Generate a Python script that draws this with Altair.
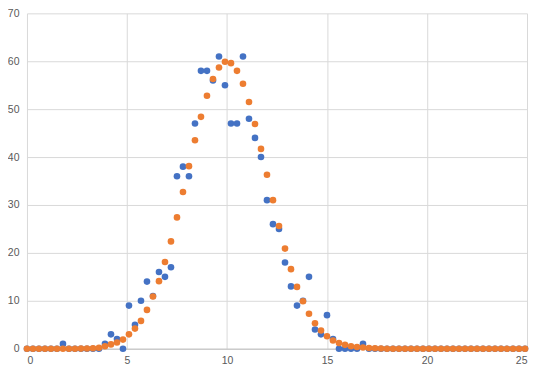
import altair as alt
import pandas as pd

x_vals = [0.0, 0.3, 0.6, 0.9, 1.2, 1.5, 1.8, 2.1, 2.4, 2.7,
          3.0, 3.3, 3.6, 3.9, 4.2, 4.5, 4.8, 5.1, 5.4, 5.7,
          6.0, 6.3, 6.6, 6.9, 7.2, 7.5, 7.8, 8.1, 8.4, 8.7,
          9.0, 9.3, 9.6, 9.9, 10.2, 10.5, 10.8, 11.1, 11.4, 11.7,
          12.0, 12.3, 12.6, 12.9, 13.2, 13.5, 13.8, 14.1, 14.4, 14.7,
          15.0, 15.3, 15.6, 15.9, 16.2, 16.5, 16.8, 17.1, 17.4, 17.7,
          18.0, 18.3, 18.6, 18.9, 19.2, 19.5, 19.8, 20.1, 20.4, 20.7,
          21.0, 21.3, 21.6, 21.9, 22.2, 22.5, 22.8, 23.1, 23.4, 23.7,
          24.0, 24.3, 24.6, 24.9]

observed = [0, 0, 0, 0, 0, 0, 1, 0, 0, 0,
            0, 0, 0, 1, 3, 2, 0, 9, 5, 10,
            14, 11, 16, 15, 17, 36, 38, 36, 47, 58,
            58, 56, 61, 55, 47, 47, 61, 48, 44, 40,
            31, 26, 25, 18, 13, 9, 10, 15, 4, 3,
            7, 2, 0, 0, 0, 0, 1, 0, 0, 0,
            0, 0, 0, 0, 0, 0, 0, 0, 0, 0,
            0, 0, 0, 0, 0, 0, 0, 0, 0, 0,
            0, 0, 0, 0]

expected = [0, 0, 0, 0, 0, 0, 0, 0, 0, 0.02,
            0.05, 0.1, 0.2, 0.5, 0.9, 1.3, 1.9, 3.0, 4.2, 5.8,
            8.1, 10.9, 14.1, 18.1, 22.4, 27.4, 32.7, 38.1, 43.5, 48.4,
            52.8, 56.3, 58.7, 59.9, 59.6, 58.0, 55.3, 51.5, 46.9, 41.7,
            36.3, 31.0, 25.6, 20.9, 16.6, 12.9, 9.9, 7.3, 5.3, 3.8,
            2.6, 1.7, 1.2, 0.8, 0.5, 0.35, 0.25, 0.15, 0.1, 0.05,
            0, 0, 0, 0, 0, 0, 0, 0, 0, 0,
            0, 0, 0, 0, 0, 0, 0, 0, 0, 0,
            0, 0, 0, 0]

x_ticks = [0, 5, 10, 15, 20, 25]
y_ticks = [0, 10, 20, 30, 40, 50, 60, 70]

df_obs = pd.DataFrame({"x": x_vals, "y": observed})
df_exp = pd.DataFrame({"x": x_vals, "y": expected})

x_enc = alt.X("x:Q", scale=alt.Scale(domain=[0, 25], nice=False),
              axis=alt.Axis(values=x_ticks, title=None, grid=True, gridColor="#D9D9D9",
                            domain=True, domainColor="#BFBFBF", ticks=False,
                            labelColor="#595959", labelFontSize=10.5, labelPadding=7,
                            labelFont="Liberation Sans"))
y_enc = alt.Y("y:Q", scale=alt.Scale(domain=[0, 70], nice=False),
              axis=alt.Axis(values=y_ticks, title=None, grid=True, gridColor="#D9D9D9",
                            domain=False, ticks=False,
                            labelColor="#595959", labelFontSize=10.5, labelPadding=8,
                            labelFont="Liberation Sans"))

blue = alt.Chart(df_obs).mark_circle(size=44, opacity=1, color="#4472C4").encode(x=x_enc, y=y_enc)
orange = alt.Chart(df_exp).mark_circle(size=44, opacity=1, color="#ED7D31").encode(x="x:Q", y="y:Q")

chart = alt.layer(blue, orange).properties(
    width=501, height=336,
    autosize=alt.AutoSizeParams(type="none"),
    padding={"left": 19, "top": 5, "right": 10, "bottom": 20},
    background="white",
).configure_view(stroke=None)

chart.save("out.html", embed_options={"renderer": "svg", "actions": False})
